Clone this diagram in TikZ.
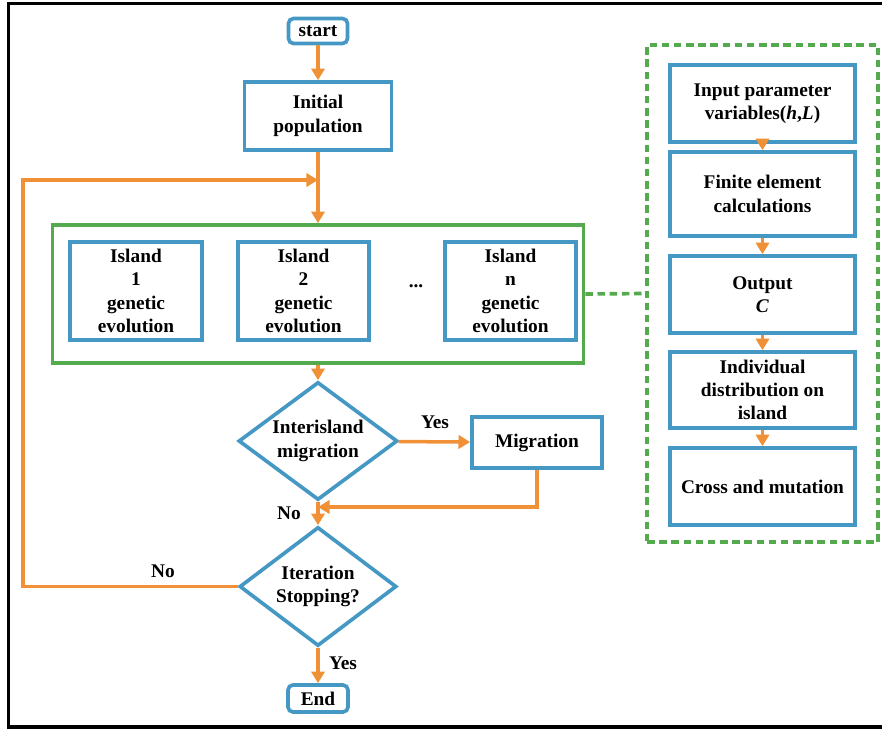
\documentclass[tikz,border=0pt]{standalone}
\usepackage{fontspec}
\setmainfont{Liberation Serif}
\usetikzlibrary{shapes.geometric,arrows.meta}

\definecolor{ga01blue}{RGB}{70,152,196}
\definecolor{ga01orange}{RGB}{240,145,55}
\definecolor{ga01green}{RGB}{84,170,76}

\begin{document}
\begin{tikzpicture}[
  x=0.6pt, y=-0.6pt,
  font=\bfseries\fontsize{11.6}{14}\selectfont,
  ga01box/.style = {draw=ga01blue, line width=2.2pt, align=center, inner sep=0pt},
  ga01term/.style = {ga01box, rounded corners=3pt},
  ga01dec/.style = {ga01box, diamond, aspect=1.35},
  ga01flow/.style = {draw=ga01orange, line width=2.1pt, -{Triangle[length=7pt,width=8pt]}},
  ga01group/.style = {draw=ga01green, line width=2.2pt, inner sep=0pt},
  ga01dash/.style = {draw=ga01green, line width=2.2pt, dash pattern=on 4.5pt off 2.8pt}
]
  \useasboundingbox (0,0) rectangle (882,729);
  % frame
  \draw[line width=2pt] (882,3.3) -- (8.5,3.3) -- (8.5,727) -- (882,727);

  % main flow
  \node[ga01term, minimum width=35.4pt, minimum height=15pt] (start) at (318,31) {start};
  \node[ga01box, minimum width=88.2pt, minimum height=40.8pt] (init) at (318,116) {Initial\\population};
  \node[ga01group, minimum width=318.6pt, minimum height=82.8pt] (islands) at (318,294) {};
  \node[ga01box, minimum width=79.2pt, minimum height=58.8pt] (isl1) at (136,291) {Island\\1\\genetic\\evolution};
  \node[ga01box, minimum width=78.6pt, minimum height=58.8pt] (isl2) at (303.5,291) {Island\\2\\genetic\\evolution};
  \node (dots) at (416,286) {...};
  \node[ga01box, minimum width=78.6pt, minimum height=58.8pt] (isln) at (510.5,291) {Island\\n\\genetic\\evolution};
  \node[ga01dec, minimum width=95.4pt, minimum height=70.8pt] (inter) at (318,441) {Interisland\\migration};
  \node[ga01box, minimum width=78pt, minimum height=30.6pt] (migr) at (537,442.5) {Migration};
  \node[ga01dec, minimum width=94.2pt, minimum height=71.4pt] (iter) at (318,586.5) {Iteration\\Stopping?};
  \node[ga01term, minimum width=36pt, minimum height=16.2pt] (end) at (318,698.5) {End};

  % fitness evaluation
  \node[ga01dash, minimum width=138.6pt, minimum height=298.2pt] (fea) at (762.5,293.5) {};
  \node[ga01box, minimum width=111pt, minimum height=46.2pt] (input) at (762.5,103.5) {Input parameter\\variables(\textit{h},\textit{L})};
  \node[ga01box, minimum width=111pt, minimum height=50.4pt] (finite) at (762.5,194) {Finite element\\calculations};
  \node[ga01box, minimum width=111pt, minimum height=46.2pt] (output) at (762.5,294.5) {Output\\\textit{C}};
  \node[ga01box, minimum width=111pt, minimum height=45.6pt] (indiv) at (762.5,390) {Individual\\distribution on\\island};
  \node[ga01box, minimum width=111pt, minimum height=46.2pt] (cross) at (762.5,486.5) {Cross and mutation};

  \coordinate (join) at (318,180);
  \coordinate (back) at (23,180);
  \coordinate (merge) at (318,507);

  % connectors
  \draw[ga01flow] (start) -- (init);
  \draw[ga01flow] (init) -- (islands);
  \draw[ga01flow] (iter.west) -| (back) -- (join);
  \node (no2) at (163,571) {No};
  \draw[ga01flow] (islands) -- (inter);
  \draw[ga01flow] (inter) -- (migr);
  \node (yes1) at (435,422) {Yes};
  \draw[ga01flow] (migr.south) |- (merge);
  \draw[ga01flow] (inter) -- (iter);
  \node (no1) at (289,513) {No};
  \draw[ga01flow] (iter) -- (end);
  \node (yes2) at (343,663) {Yes};
  \draw[ga01dash] (islands.east) -- (fea.west);
  \foreach \a/\b in {input/finite, finite/output, output/indiv, indiv/cross} {
    \draw[ga01flow] (\a) -- (\b);
  }
\end{tikzpicture}
\end{document}
